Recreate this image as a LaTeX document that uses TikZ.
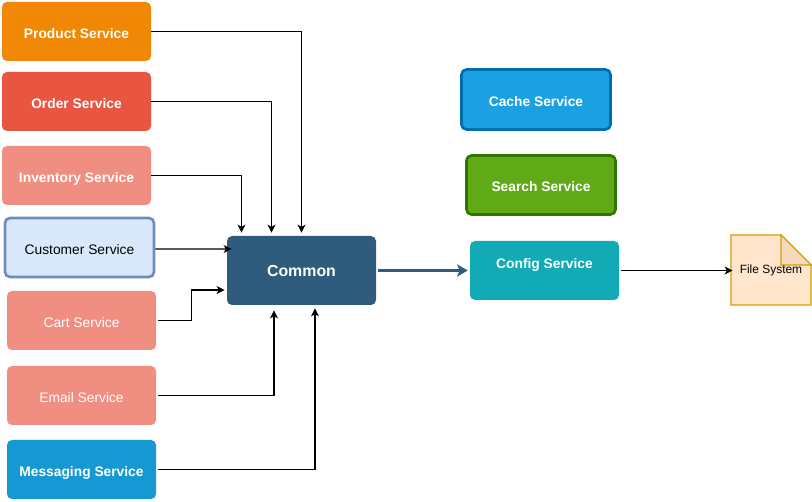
\documentclass[tikz,border=0pt]{standalone}
\usepackage{fontspec}
\setmainfont{Liberation Sans}
\usetikzlibrary{arrows.meta}
\definecolor{productorange}{HTML}{F08705}
\definecolor{orderred}{HTML}{E85642}
\definecolor{salmon}{HTML}{F08E81}
\definecolor{custfill}{HTML}{DAE8FC}
\definecolor{custline}{HTML}{6C8EBF}
\definecolor{msgblue}{HTML}{1699D3}
\definecolor{commonblue}{HTML}{2F5B7C}
\definecolor{cachefill}{HTML}{1BA1E2}
\definecolor{cacheline}{HTML}{006EAF}
\definecolor{searchfill}{HTML}{60A917}
\definecolor{searchline}{HTML}{2D7600}
\definecolor{configteal}{HTML}{12AAB5}
\definecolor{notefill}{HTML}{FFE6CC}
\definecolor{notefold}{HTML}{F5D9BF}
\definecolor{noteline}{HTML}{D79B00}
\begin{document}
\begin{tikzpicture}[
    svc/.style={rounded corners=0.1cm, minimum width=2.98cm, minimum height=1.18cm,
        text height=7.6pt, text depth=0pt, text=white, font=\fontsize{7.85pt}{9pt}\selectfont},
    bsvc/.style={svc, font=\fontsize{7.85pt}{9pt}\selectfont\bfseries},
    link/.style={-{Stealth[length=4.6pt, width=4.6pt, inset=1.3pt]}, line width=0.6pt}
]
    \useasboundingbox (0, 0) rectangle (16.24, 10.04);
    \node[bsvc, fill=productorange] (product) at (1.53, 9.41) {Product Service};
    \node[bsvc, fill=orderred] (order) at (1.53, 8.01) {Order Service};
    \node[bsvc, fill=salmon] (inventory) at (1.53, 6.53) {Inventory Service};
    \node[svc, fill=custfill, draw=custline, line width=1.5pt, text=black] (customer) at (1.59, 5.09) {Customer Service};
    \node[svc, fill=salmon] (cart) at (1.63, 3.63) {Cart Service};
    \node[svc, fill=salmon] (email) at (1.63, 2.13) {Email Service};
    \node[bsvc, fill=msgblue] (messaging) at (1.63, 0.65) {Messaging Service};
    \node[bsvc, fill=commonblue, minimum height=1.38cm, text height=6.5pt, font=\fontsize{9.05pt}{11pt}\selectfont\bfseries] (common) at (6.03, 4.63) {Common};
    \node[bsvc, fill=cachefill, draw=cacheline, line width=1.5pt, minimum height=1.2cm] (cache) at (10.72, 8.05) {Cache Service};
    \node[bsvc, fill=searchfill, draw=searchline, line width=1.5pt, minimum height=1.18cm] (search) at (10.82, 6.34) {Search Service};
    \node[bsvc, fill=configteal, text depth=0.35cm] (config) at (10.89, 4.63) {Config Service};
    \coordinate (fsnw) at (14.62, 5.34);
    \coordinate (fsse) at (16.22, 3.94);
    \draw[noteline, fill=notefill, line width=0.6pt] (fsnw) -- ([xshift=-0.6cm]fsnw -| fsse) -- ([yshift=-0.6cm]fsnw -| fsse) -- (fsse) -- (fsnw |- fsse) -- cycle;
    \draw[noteline, fill=notefold, line width=0.6pt] ([xshift=-0.6cm]fsnw -| fsse) -- ([xshift=-0.6cm, yshift=-0.6cm]fsnw -| fsse) -- ([yshift=-0.6cm]fsnw -| fsse) -- cycle;
    \node[minimum width=1.6cm, minimum height=1.4cm, font=\fontsize{6.8pt}{8pt}\selectfont] (files) at (15.42, 4.64) {File System};
    \draw[link] (product.east) -| ([yshift=0.06cm]common.north);
    \draw[link] (order.east) -| ([xshift=-0.6cm, yshift=0.06cm]common.north);
    \draw[link] (inventory.east) -| ([xshift=-1.2cm, yshift=0.06cm]common.north);
    \draw[link] ([yshift=-0.03cm]customer.east) -- ([xshift=0.1cm, yshift=0.43cm]common.west);
    \draw[link] ([xshift=0.04cm]cart.east) -- ++(0.66, 0) |- ([xshift=-0.04cm, yshift=-0.39cm]common.west);
    \draw[link] ([xshift=0.04cm]email.east) -| ([xshift=-0.55cm, yshift=-0.1cm]common.south);
    \draw[link] ([xshift=0.04cm]messaging.east) -| ([xshift=0.27cm, yshift=-0.06cm]common.south);
    \draw[-{Stealth[length=6pt, width=7pt, inset=1.5pt]}, commonblue, line width=1.7pt] ([xshift=0.04cm]common.east) -- ([xshift=-0.04cm]config.west);
    \draw[link] ([xshift=0.04cm]config.east) -- ([xshift=0.04cm]config.east -| files.west);
\end{tikzpicture}
\end{document}
